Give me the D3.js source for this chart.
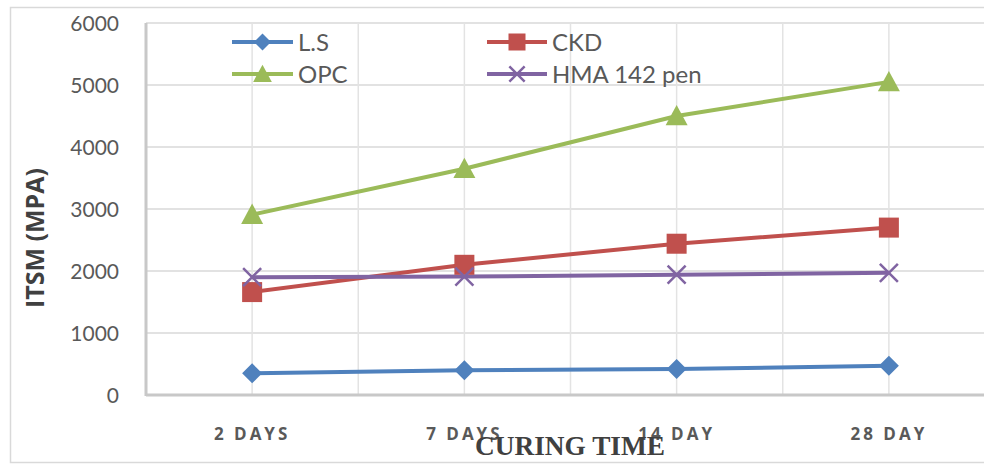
<!DOCTYPE html>
<html>
<head>
<meta charset="utf-8">
<script src="https://cdn.jsdelivr.net/npm/d3@7/dist/d3.min.js"></script>
<style>
  html, body { margin: 0; padding: 0; background: #fff; }
  svg { display: block; }
</style>
</head>
<body>
<svg id="chart" width="984" height="464"></svg>
<script>
const categories = ["2 DAYS", "7 DAYS", "14 DAY", "28 DAY"];
const yTicks = [0, 1000, 2000, 3000, 4000, 5000, 6000];
const seriesNames = ["L.S", "CKD", "OPC", "HMA 142 pen"];
const lsValues = [350, 400, 420, 470];
const ckdValues = [1660, 2100, 2440, 2700];
const opcValues = [2910, 3650, 4500, 5050];
const hmaValues = [1900, 1910, 1940, 1970];
const yTitle = "ITSM (MPA)";
const xTitle = "CURING TIME";

const series = [
  { name: seriesNames[0], values: lsValues, color: "#4f81bd", marker: "diamond" },
  { name: seriesNames[1], values: ckdValues, color: "#c0504d", marker: "square" },
  { name: seriesNames[2], values: opcValues, color: "#9bbb59", marker: "triangle" },
  { name: seriesNames[3], values: hmaValues, color: "#8064a2", marker: "x" }
];

const svg = d3.select("#chart");
const plotL = 146, plotR = 995, plotT = 23, plotB = 395;

// outer chart border
svg.append("rect").attr("x", 10.5).attr("y", 7.5).attr("width", 990).attr("height", 455)
  .attr("fill", "#fff").attr("stroke", "#d9d9d9").attr("stroke-width", 1.5);

const x = d3.scaleBand().domain(categories).range([plotL, plotR]);
const y = d3.scaleLinear().domain([0, 6000]).range([plotB, plotT]);

// horizontal gridlines
svg.append("g").selectAll("line").data(yTicks.filter(d => d > 0)).join("line")
  .attr("x1", plotL).attr("x2", plotR)
  .attr("y1", d => y(d)).attr("y2", d => y(d))
  .attr("stroke", "#d9d9d9").attr("stroke-width", 1.5);

// vertical gridlines: band edges and centers
const vlines = [];
categories.forEach(c => { vlines.push(x(c) + x.bandwidth() / 2); vlines.push(x(c) + x.bandwidth()); });
svg.append("g").selectAll("line").data(vlines).join("line")
  .attr("x1", d => d).attr("x2", d => d)
  .attr("y1", plotT).attr("y2", plotB)
  .attr("stroke", "#e3e3e3").attr("stroke-width", 1.5);

// axis lines
svg.append("line").attr("x1", plotL).attr("x2", plotL).attr("y1", plotT).attr("y2", plotB + 1)
  .attr("stroke", "#c8c8c8").attr("stroke-width", 3);
svg.append("line").attr("x1", plotL).attr("x2", plotR).attr("y1", plotB).attr("y2", plotB)
  .attr("stroke", "#c8c8c8").attr("stroke-width", 3);

// y axis labels
const yAxis = d3.axisLeft(y).tickValues(yTicks).tickFormat(d3.format("d")).tickSize(0).tickPadding(0);
const gy = svg.append("g").attr("transform", `translate(${plotL - 27},0)`).call(yAxis);
gy.select(".domain").remove();
gy.selectAll("text").attr("font-family", "Lato, 'Open Sans', sans-serif")
  .attr("font-size", 21).attr("fill", "#595959").attr("dy", "0.36em");

// x axis labels
const xAxis = d3.axisBottom(x).tickSize(0).tickPadding(0);
const gx = svg.append("g").attr("transform", `translate(0,${plotB + 39})`).call(xAxis);
gx.select(".domain").remove();
gx.selectAll("text").attr("font-family", "'Open Sans', 'DejaVu Sans', sans-serif")
  .attr("font-size", 17).attr("font-weight", "bold").attr("fill", "#595959")
  .attr("letter-spacing", "3px").attr("dy", "0.36em");

// lines
const line = d3.line().x((d, i) => x(categories[i]) + x.bandwidth() / 2).y(d => y(d));
series.forEach(s => {
  svg.append("path").datum(s.values).attr("d", line)
    .attr("fill", "none").attr("stroke", s.color).attr("stroke-width", 4)
    .attr("stroke-linejoin", "round");
});

function drawMarker(g, type, cx, cy, color, scale) {
  const k = scale || 1;
  if (type === "diamond") {
    const r = 10 * k;
    g.append("path").attr("d", `M${cx},${cy - r}L${cx + r},${cy}L${cx},${cy + r}L${cx - r},${cy}Z`).attr("fill", color);
  } else if (type === "square") {
    const r = 10 * k;
    g.append("rect").attr("x", cx - r).attr("y", cy - r).attr("width", 2 * r).attr("height", 2 * r).attr("fill", color);
  } else if (type === "triangle") {
    const r = 11 * k;
    g.append("path").attr("d", `M${cx},${cy - r}L${cx + r},${cy + r * 0.85}L${cx - r},${cy + r * 0.85}Z`).attr("fill", color);
  } else if (type === "x") {
    const r = 9 * k;
    g.append("path").attr("d", `M${cx - r},${cy - r}L${cx + r},${cy + r}M${cx - r},${cy + r}L${cx + r},${cy - r}`)
      .attr("stroke", color).attr("stroke-width", 2.5).attr("fill", "none");
  }
}

series.forEach(s => {
  const g = svg.append("g");
  s.values.forEach((v, i) => drawMarker(g, s.marker, x(categories[i]) + x.bandwidth() / 2, y(v), s.color, 1));
});

// legend
const legendPos = [
  { x1: 232, x2: 293, y: 42 },
  { x1: 487, x2: 547, y: 42 },
  { x1: 232, x2: 293, y: 74 },
  { x1: 487, x2: 547, y: 74 }
];
series.forEach((s, i) => {
  const p = legendPos[i];
  const g = svg.append("g");
  g.append("line").attr("x1", p.x1).attr("x2", p.x2).attr("y1", p.y).attr("y2", p.y)
    .attr("stroke", s.color).attr("stroke-width", 4);
  drawMarker(g, s.marker, (p.x1 + p.x2) / 2, p.y, s.color, 0.85);
  g.append("text").attr("x", p.x2 + 5).attr("y", p.y).attr("dy", "0.36em")
    .attr("font-family", "Lato, 'Open Sans', sans-serif").attr("font-size", 24)
    .attr("fill", "#595959").text(s.name);
});

// axis titles
svg.append("text").attr("transform", "translate(44,238) rotate(-90)")
  .attr("text-anchor", "middle").attr("font-family", "'Open Sans', Lato, sans-serif")
  .attr("font-weight", "bold").attr("font-size", 25).attr("fill", "#404040").text(yTitle);
svg.append("text").attr("x", 570).attr("y", 455)
  .attr("text-anchor", "middle").attr("font-family", "'Liberation Serif', 'Times New Roman', serif")
  .attr("font-weight", "bold").attr("font-size", 28).attr("fill", "#404040")
  .attr("textLength", 190).attr("lengthAdjust", "spacingAndGlyphs").text(xTitle);
</script>
</body>
</html>
